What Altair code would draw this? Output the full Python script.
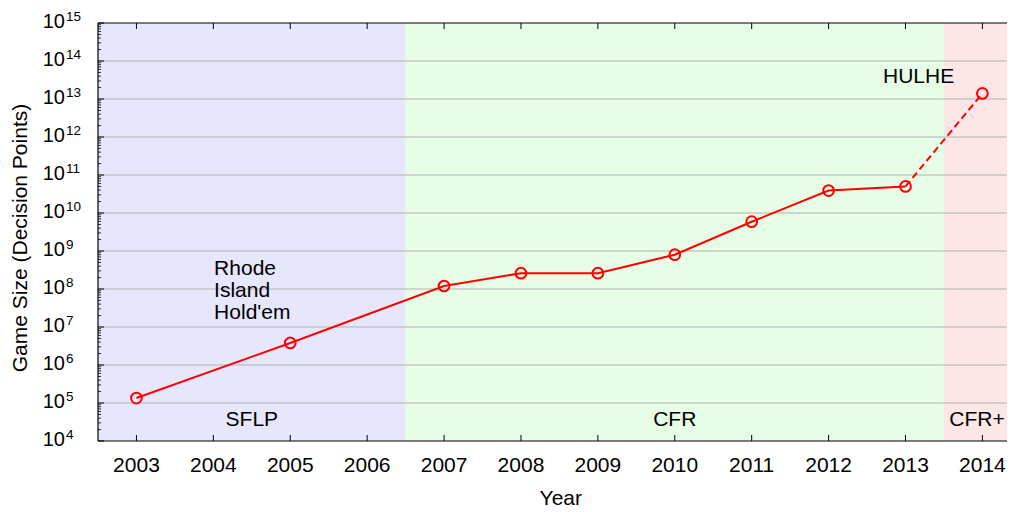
import altair as alt
import pandas as pd

# ---- data ----
years = [2003, 2005, 2007, 2008, 2009, 2010, 2011, 2012, 2013, 2014]
sizes = [1.35e5, 3.8e6, 1.2e8, 2.6e8, 2.6e8, 8.0e8, 5.9e9, 3.9e10, 5.0e10, 1.4e13]
solid_count = 9          # 2003..2013 solid, 2013->2014 dashed

X_MIN, X_MAX = 2002.5, 2014.32
band_start = [2002.5, 2006.5, 2013.5]
band_end = [2006.5, 2013.5, X_MAX]
band_color = ["#e6e6fc", "#e6fde6", "#fde6e6"]

tick_years = list(range(2003, 2015))
exponents = list(range(4, 16))
grid_exponents = list(range(5, 15))

ann_text = ["SFLP", "CFR", "CFR+", "HULHE"]
ann_x = [2004.5, 2010.0, 2013.93, 2013.17]
ann_y = [3.5e4, 3.5e4, 3.5e4, 3.8e13]

rhode_text = ["Rhode\nIsland\nHold'em"]
rhode_x = [2004.01]
rhode_y = [3.4e8]

x_title = ["Year"]
y_title = ["Game Size (Decision Points)"]

# ---- tables ----
W, H = 909, 418
FONT = "Liberation Sans"

pts = pd.DataFrame({"year": years, "size": sizes})
solid = pts.iloc[:solid_count]
dashed = pts.iloc[solid_count - 1:]
bands = pd.DataFrame({"start": band_start, "end": band_end, "color": band_color})
ticks = pd.DataFrame({"year": tick_years, "label": [str(y) for y in tick_years]})
ylab = pd.DataFrame({"val": [10.0 ** e for e in exponents],
                     "base": ["10"] * len(exponents),
                     "exp": [str(e) for e in exponents]})
grid = pd.DataFrame({"val": [10.0 ** e for e in grid_exponents]})
major = pd.DataFrame({"val": [10.0 ** e for e in exponents]})
minor = pd.DataFrame({"val": [m * 10.0 ** e for e in range(4, 15) for m in range(2, 10)]})
ann = pd.DataFrame({"text": ann_text, "year": ann_x, "size": ann_y})
rhode = pd.DataFrame({"text": rhode_text, "year": rhode_x, "size": rhode_y})
xt = pd.DataFrame({"text": x_title})
yt = pd.DataFrame({"text": y_title})

xs = alt.Scale(domain=[X_MIN, X_MAX], nice=False, zero=False)
ys = alt.Scale(type="log", domain=[1e4, 1e15], nice=False)


def X(field):
    return alt.X(field, scale=xs, axis=None)


def Y(field):
    return alt.Y(field, scale=ys, axis=None)


band_layer = alt.Chart(bands).mark_rect().encode(
    x=X("start:Q"), x2="end:Q",
    y=alt.Y(datum=1e4, scale=ys, axis=None, type="quantitative"),
    y2=alt.Y2(datum=1e15),
    color=alt.Color("color:N", scale=None),
)

grid_layer = alt.Chart(grid).mark_rule(color="#b4b4b4", strokeWidth=1.2).encode(
    y=Y("val:Q")
)

top_layer = alt.Chart(major).transform_filter(alt.datum.val > 1e14).mark_rule(
    color="black", strokeWidth=1.2).encode(y=Y("val:Q"))
bottom_layer = alt.Chart(major).transform_filter(alt.datum.val < 2e4).mark_rule(
    color="black", strokeWidth=1.2).encode(y=Y("val:Q"))
left_layer = alt.Chart(bands).transform_filter(alt.datum.start < 2003).mark_rule(
    color="black", strokeWidth=1.2).encode(x=X("start:Q"))

ymajor_layer = alt.Chart(major).mark_rule(color="black", strokeWidth=1).encode(
    y=Y("val:Q"), x=alt.value(0), x2=alt.value(6),
)
yminor_layer = alt.Chart(minor).mark_rule(color="black", strokeWidth=0.8).encode(
    y=Y("val:Q"), x=alt.value(0), x2=alt.value(3),
)

xtick_bottom = alt.Chart(ticks).mark_rule(color="black", strokeWidth=1).encode(
    x=X("year:Q"), y=alt.value(H), y2=alt.value(H - 6),
)
xtick_top = alt.Chart(ticks).mark_rule(color="black", strokeWidth=1).encode(
    x=X("year:Q"), y=alt.value(0), y2=alt.value(6),
)
xlabel_layer = alt.Chart(ticks).mark_text(font=FONT, fontSize=21, color="black",
                                          align="center", baseline="middle").encode(
    x=X("year:Q"), y=alt.value(H + 24.5), text="label:N",
)

solid_layer = alt.Chart(solid).mark_line(color="#ff0000", strokeWidth=2).encode(
    x=X("year:Q"), y=Y("size:Q"),
)
dashed_layer = alt.Chart(dashed).mark_line(color="#ff0000", strokeWidth=2,
                                           strokeDash=[7, 4]).encode(
    x=X("year:Q"), y=Y("size:Q"),
)
point_layer = alt.Chart(pts).mark_point(shape="circle", filled=False,
                                        color="#ff0000", size=115,
                                        strokeWidth=2, opacity=1).encode(
    x=X("year:Q"), y=Y("size:Q"),
)

ann_layer = alt.Chart(ann).mark_text(font=FONT, fontSize=21, color="black",
                                     align="center", baseline="middle").encode(
    x=X("year:Q"), y=Y("size:Q"), text="text:N",
)
rhode_layer = alt.Chart(rhode).mark_text(font=FONT, fontSize=21, color="black",
                                         align="left", baseline="middle",
                                         lineBreak="\n", lineHeight=22).encode(
    x=X("year:Q"), y=Y("size:Q"), text="text:N",
)

ybase_layer = alt.Chart(ylab).mark_text(font=FONT, fontSize=20, color="black",
                                        align="right", baseline="middle",
                                        dy=-1).encode(
    y=Y("val:Q"), x=alt.value(-33), text="base:N",
)
yexp_layer = alt.Chart(ylab).mark_text(font=FONT, fontSize=13.5, color="black",
                                       align="left", baseline="middle",
                                       dy=-6.5).encode(
    y=Y("val:Q"), x=alt.value(-32), text="exp:N",
)

xtitle_layer = alt.Chart(xt).mark_text(font=FONT, fontSize=21, color="black",
                                       align="center", baseline="middle").encode(
    x=alt.value(462.8), y=alt.value(H + 58), text="text:N",
)
ytitle_layer = alt.Chart(yt).mark_text(font=FONT, fontSize=21, color="black",
                                       align="center", baseline="middle",
                                       angle=270).encode(
    x=alt.value(-77.5), y=alt.value(215), text="text:N",
)

chart = alt.layer(
    band_layer, grid_layer, ymajor_layer, yminor_layer, xtick_bottom, xtick_top,
    top_layer, bottom_layer, left_layer, solid_layer, dashed_layer, point_layer,
    ann_layer, rhode_layer, ybase_layer, yexp_layer, xlabel_layer,
    xtitle_layer, ytitle_layer,
).properties(
    width=W, height=H,
    autosize=alt.AutoSizeParams(type="none"),
    padding={"left": 90, "top": 15, "right": 0, "bottom": 67},
    background="white",
).configure_view(stroke=None)

chart.save("out.html", embed_options={"renderer": "svg", "actions": False})
